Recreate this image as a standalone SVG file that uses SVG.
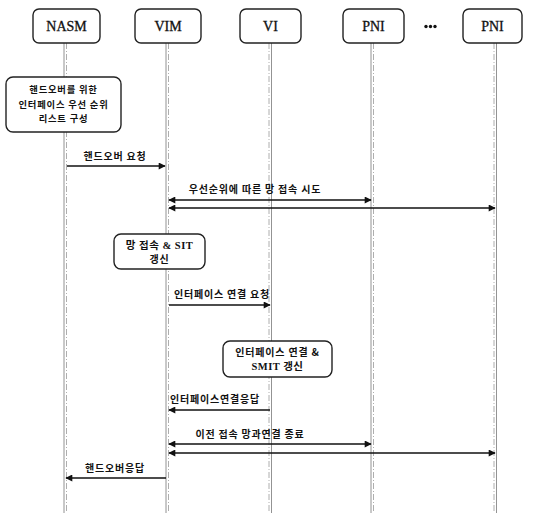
<svg xmlns="http://www.w3.org/2000/svg" width="536" height="515" viewBox="0 0 536 515">
<defs>
<marker id="ah" viewBox="0 0 10 10" refX="9" refY="5" markerWidth="9" markerHeight="7" markerUnits="userSpaceOnUse" orient="auto-start-reverse">
<path d="M0,0 L10,5 L0,10 Z" fill="#111"/>
</marker>
</defs>
<style>
.hdr{fill:#fff;stroke:#222;stroke-width:1.4}
.hl{font-family:"Liberation Serif","Times New Roman",serif;font-size:14px;fill:#111;stroke:#111;stroke-width:0.3;text-anchor:middle}
.life{stroke:#777;stroke-width:0.8;fill:none}
.lifed{stroke:#999;stroke-width:0.8;fill:none;stroke-dasharray:6 2 1 2}
.box{fill:#fff;stroke:#222;stroke-width:1.4}
.kt{font-family:"Noto Sans CJK KR","Noto Sans",sans-serif;font-weight:bold;font-size:10px;letter-spacing:0.8px;fill:#111;text-anchor:middle}
.bt{font-family:"Noto Sans CJK KR","Noto Sans",sans-serif;font-weight:bold;font-size:9.3px;letter-spacing:0.8px;fill:#111;text-anchor:middle}
.mix{font-family:"Liberation Serif","Noto Sans CJK KR",serif;font-weight:bold;font-size:10.5px;letter-spacing:0.5px;fill:#111;text-anchor:middle}
.arr{stroke:#111;stroke-width:1.5;fill:none}
</style>
<rect width="536" height="515" fill="#fff"/>
<g id="lifelines">
<line class="life" x1="64" y1="43" x2="64" y2="513"/><line class="lifed" x1="66.5" y1="43" x2="66.5" y2="513"/>
<line class="life" x1="166" y1="43" x2="166" y2="513"/><line class="lifed" x1="168.5" y1="43" x2="168.5" y2="513"/>
<line class="lifed" x1="269" y1="43" x2="269" y2="513"/><line class="life" x1="271.5" y1="43" x2="271.5" y2="513"/>
<line class="life" x1="371" y1="43" x2="371" y2="513"/><line class="lifed" x1="373.5" y1="43" x2="373.5" y2="513"/>
<line class="lifed" x1="494" y1="43" x2="494" y2="513"/><line class="life" x1="496.5" y1="43" x2="496.5" y2="513"/>
</g>
<g id="NASM"><rect class="hdr" x="33" y="9" width="67" height="34" rx="6"/><text class="hl" x="66.5" y="31">NASM</text></g>
<g id="VIM"><rect class="hdr" x="135" y="9" width="66" height="34" rx="6"/><text class="hl" x="168" y="31">VIM</text></g>
<g id="VI"><rect class="hdr" x="240" y="9" width="61" height="34" rx="6"/><text class="hl" x="270.5" y="31">VI</text></g>
<g id="PNI1"><rect class="hdr" x="343" y="9" width="61" height="34" rx="6"/><text class="hl" x="373.5" y="31">PNI</text></g>
<g id="dots"><circle cx="426" cy="26.5" r="1.7" fill="#111"/><circle cx="430.5" cy="26.5" r="1.7" fill="#111"/><circle cx="435" cy="26.5" r="1.7" fill="#111"/></g>
<g id="PNI2"><rect class="hdr" x="463" y="9" width="59" height="34" rx="6"/><text class="hl" x="492.5" y="31">PNI</text></g>
<g id="box-list"><rect class="box" x="6" y="77" width="115" height="55" rx="7"/>
<text class="bt" x="63.5" y="93">핸드오버를 위한</text>
<text class="bt" x="63.5" y="107.5">인터페이스 우선 순위</text>
<text class="bt" x="63.5" y="122">리스트 구성</text></g>
<g id="box-sit"><rect class="box" x="114" y="234" width="91" height="35" rx="7"/>
<text class="mix" x="159.5" y="249">망 접속 &amp; SIT</text>
<text class="kt" x="159.5" y="263">갱신</text></g>
<g id="box-smit"><rect class="box" x="223" y="341" width="109" height="36" rx="7"/>
<text class="kt" x="277.5" y="356">인터페이스 연결 &amp;</text>
<text class="mix" x="277.5" y="370">SMIT 갱신</text></g>
<g id="connectors">
<line class="arr" x1="67" y1="166" x2="165" y2="166" marker-end="url(#ah)"/>
<text class="kt" x="115" y="160">핸드오버 요청</text>
<line class="arr" x1="169" y1="200" x2="371" y2="200" marker-start="url(#ah)" marker-end="url(#ah)"/>
<line class="arr" x1="169" y1="208" x2="495" y2="208" marker-start="url(#ah)" marker-end="url(#ah)"/>
<text class="kt" x="255" y="193">우선순위에 따른 망 접속 시도</text>
<line class="arr" x1="169" y1="305" x2="270" y2="305" marker-end="url(#ah)"/>
<text class="kt" x="222" y="298">인터페이스 연결 요청</text>
<line class="arr" x1="270" y1="410" x2="169" y2="410" marker-end="url(#ah)"/>
<text class="kt" x="215" y="403">인터페이스연결응답</text>
<line class="arr" x1="169" y1="444" x2="371" y2="444" marker-start="url(#ah)" marker-end="url(#ah)"/>
<line class="arr" x1="169" y1="453" x2="495" y2="453" marker-start="url(#ah)" marker-end="url(#ah)"/>
<text class="kt" x="250" y="438">이전 접속 망과연결 종료</text>
<line class="arr" x1="166" y1="478" x2="66" y2="478" marker-end="url(#ah)"/>
<text class="kt" x="115" y="472">핸드오버응답</text>
</g>
</svg>
